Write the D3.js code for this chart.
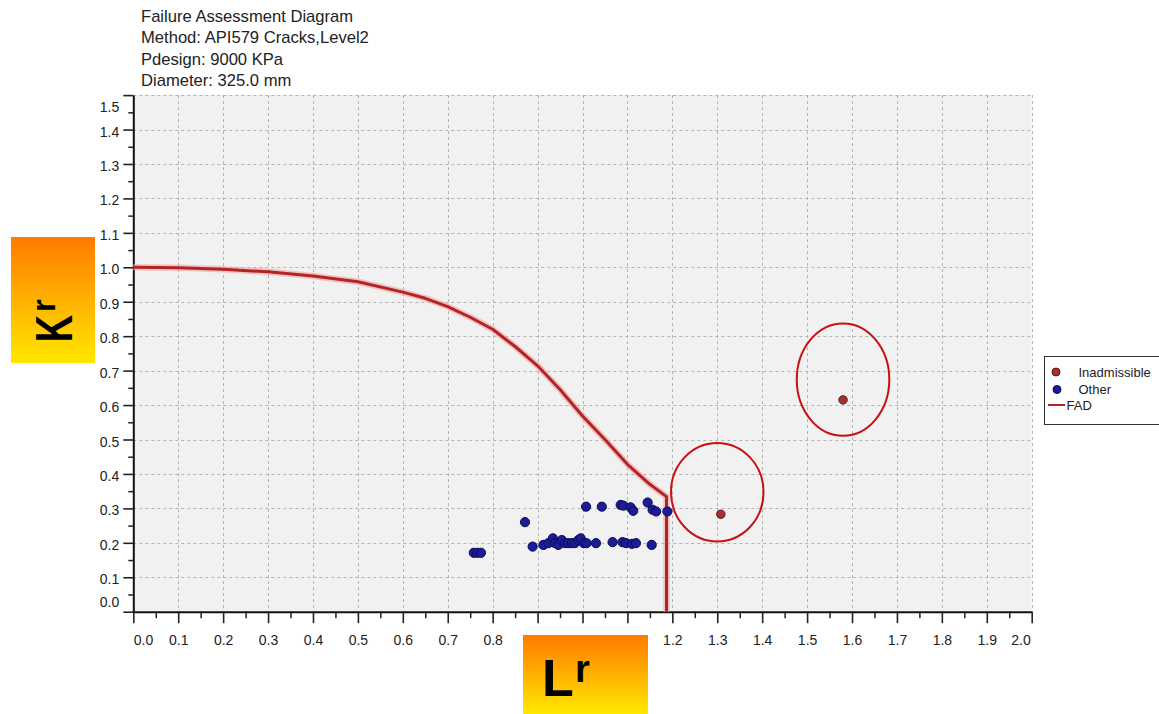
<!DOCTYPE html>
<html><head><meta charset="utf-8">
<script src="https://cdn.jsdelivr.net/npm/d3@7"></script>
<style>body{margin:0;background:#fff;} svg{display:block;}</style>
</head><body>
<svg id="c" width="1159" height="714"></svg>
<script>
// ---------- data ----------
const titleLines = ["Failure Assessment Diagram", "Method: API579 Cracks,Level2", "Pdesign: 9000 KPa", "Diameter: 325.0 mm"];
const xTickValues = [0,0.1,0.2,0.3,0.4,0.5,0.6,0.7,0.8,0.9,1.0,1.1,1.2,1.3,1.4,1.5,1.6,1.7,1.8,1.9,2.0];
const yTickValues = [0,0.1,0.2,0.3,0.4,0.5,0.6,0.7,0.8,0.9,1.0,1.1,1.2,1.3,1.4,1.5];
// FAD curve
const fadLr = [0, 0.1, 0.2, 0.3, 0.4, 0.5, 0.6, 0.65, 0.7, 0.75, 0.8, 0.85, 0.9, 0.95, 1.0, 1.05, 1.1, 1.15, 1.187, 1.187];
const fadKr = [1.0, 0.999, 0.994, 0.987, 0.975, 0.958, 0.928, 0.91, 0.886, 0.855, 0.82, 0.77, 0.714, 0.645, 0.568, 0.50, 0.428, 0.37, 0.334, 0.0];
// "Other" assessment points
const otherLr = [1.008, 1.043, 1.085, 1.091, 1.107, 1.113, 1.145, 1.156, 1.164, 1.189, 0.872,
  0.758, 0.766, 0.774,
  0.889, 0.913, 0.924, 0.934, 0.939, 0.946, 0.954, 0.961, 0.968, 0.976, 0.983, 0.991, 0.996, 1.003, 1.009,
  1.030, 1.067, 1.089, 1.097, 1.110, 1.119, 1.154];
const otherKr = [0.305, 0.305, 0.310, 0.308, 0.303, 0.293, 0.317, 0.296, 0.291, 0.291, 0.260,
  0.171, 0.171, 0.171,
  0.189, 0.194, 0.199, 0.213, 0.199, 0.194, 0.208, 0.199, 0.199, 0.199, 0.199, 0.208, 0.213, 0.199, 0.199,
  0.199, 0.202, 0.202, 0.199, 0.197, 0.199, 0.194];
// "Inadmissible" points
const inadLr = [1.308, 1.580];
const inadKr = [0.283, 0.615];
// highlight ellipses (centres, data units)
const hlLr = [1.30, 1.58];
const hlKr = [0.347, 0.674];
const hlHalfW = [0.103, 0.103];
const hlHalfH = [0.143, 0.163];
const legendLabels = ["Inadmissible", "Other", "FAD"];

// ---------- drawing ----------
const svg = d3.select("#c");
const FONT = "'Liberation Sans', Arial, sans-serif";
const x = d3.scaleLinear().domain([0, 2]).range([133.3, 1031.7]);
const y = d3.scaleLinear().domain([0, 1.5]).range([611.7, 95.1]);

// title
svg.append("g").selectAll("text").data(titleLines).join("text")
  .attr("x", 141).attr("y", (d, i) => 21.5 + i * 21.5)
  .attr("font-family", FONT).attr("font-size", 16.6).attr("fill", "#222")
  .text(d => d);

// plot background
svg.append("rect").attr("x", x(0)).attr("y", y(1.5)).attr("width", x(2) - x(0)).attr("height", y(0) - y(1.5))
  .attr("fill", "#f1f1f1");

// grid
const grid = svg.append("g").attr("stroke", "#b4b4b4").attr("stroke-width", 1).attr("stroke-dasharray", "3,3");
grid.selectAll("line.v").data(xTickValues.filter(d => d > 0)).join("line")
  .attr("x1", d => Math.round(x(d)) + 0.5).attr("x2", d => Math.round(x(d)) + 0.5)
  .attr("y1", y(1.5)).attr("y2", y(0));
grid.selectAll("line.h").data(yTickValues.filter(d => d > 0)).join("line")
  .attr("y1", d => Math.round(y(d)) + 0.5).attr("y2", d => Math.round(y(d)) + 0.5)
  .attr("x1", x(0)).attr("x2", x(2));

// axes: minor ticks
const xMinor = xTickValues.slice(0, -1).map(d => +(d + 0.05).toFixed(2));
const yMinor = yTickValues.slice(0, -1).map(d => +(d + 0.05).toFixed(2));
svg.append("g").attr("transform", `translate(0,${y(0)})`)
  .call(d3.axisBottom(x).tickValues(xMinor).tickSize(6.5).tickFormat(""))
  .call(g => g.select(".domain").remove())
  .call(g => g.selectAll("line").attr("stroke", "#222").attr("stroke-width", 1.5));
svg.append("g").attr("transform", `translate(${x(0)},0)`)
  .call(d3.axisLeft(y).tickValues(yMinor).tickSize(5).tickFormat(""))
  .call(g => g.select(".domain").remove())
  .call(g => g.selectAll("line").attr("stroke", "#222").attr("stroke-width", 1.5));

// major x axis
const xAx = svg.append("g").attr("transform", `translate(0,${y(0)})`)
  .call(d3.axisBottom(x).tickValues(xTickValues).tickSize(11.5).tickSizeOuter(0).tickFormat(d3.format(".1f")));
xAx.select(".domain").attr("stroke", "#111").attr("stroke-width", 2);
xAx.selectAll("line").attr("stroke", "#222").attr("stroke-width", 1.6);
xAx.selectAll("text").attr("font-family", FONT).attr("font-size", 14).attr("fill", "#222")
  .attr("y", 33.3).attr("dy", null)
  .attr("text-anchor", d => d === 0 ? "start" : (d === 2 ? "end" : "middle"))
  .attr("dx", d => d === 0 ? 0 : (d === 2 ? -1.5 : 0))
  .attr("x", 0);

// major y axis
const yAx = svg.append("g").attr("transform", `translate(${x(0)},0)`)
  .call(d3.axisLeft(y).tickValues(yTickValues).tickSize(10).tickSizeOuter(0).tickFormat(d3.format(".1f")));
yAx.select(".domain").attr("stroke", "#111").attr("stroke-width", 2);
yAx.selectAll("line").attr("stroke", "#222").attr("stroke-width", 1.6);
yAx.selectAll("text").attr("font-family", FONT).attr("font-size", 14).attr("fill", "#222")
  .attr("x", -14).attr("dy", null)
  .attr("y", d => d === 1.5 ? 16 : (d === 0 ? -5 : 6.5));

// FAD curve
const fadPts = fadLr.map((d, i) => [d, fadKr[i]]);
const line = d3.line().x(d => x(d[0])).y(d => y(d[1]));
svg.append("path").datum(fadPts).attr("d", line).attr("fill", "none")
  .attr("stroke", "#f3a3a3").attr("stroke-opacity", 0.6).attr("stroke-width", 6.5).attr("stroke-linejoin", "round");
svg.append("path").datum(fadPts).attr("d", line).attr("fill", "none")
  .attr("stroke", "#b32424").attr("stroke-width", 3).attr("stroke-linejoin", "round");

// other points
svg.append("g").selectAll("circle").data(otherLr.map((d, i) => [d, otherKr[i]])).join("circle")
  .attr("cx", d => x(d[0])).attr("cy", d => y(d[1])).attr("r", 4.6)
  .attr("fill", "#1c1c96").attr("stroke", "#0a0a55").attr("stroke-width", 1);

// inadmissible points
svg.append("g").selectAll("circle").data(inadLr.map((d, i) => [d, inadKr[i]])).join("circle")
  .attr("cx", d => x(d[0])).attr("cy", d => y(d[1])).attr("r", 4.2)
  .attr("fill", "#a83030").attr("stroke", "#5a1212").attr("stroke-width", 1);

// highlight ellipses
svg.append("g").selectAll("ellipse").data(hlLr.map((d, i) => i)).join("ellipse")
  .attr("cx", i => x(hlLr[i])).attr("cy", i => y(hlKr[i]))
  .attr("rx", i => x(hlHalfW[i]) - x(0)).attr("ry", i => y(0) - y(hlHalfH[i]))
  .attr("fill", "none").attr("stroke", "#c81010").attr("stroke-width", 2);

// legend
const lg = svg.append("g");
lg.append("rect").attr("x", 1044.5).attr("y", 356.5).attr("width", 130).attr("height", 68)
  .attr("fill", "#fff").attr("stroke", "#333").attr("stroke-width", 1);
lg.append("circle").attr("cx", 1056).attr("cy", 372).attr("r", 4).attr("fill", "#a83030").attr("stroke", "#5a1212");
lg.append("circle").attr("cx", 1057).attr("cy", 389.5).attr("r", 4).attr("fill", "#1c1c96").attr("stroke", "#0a0a55");
lg.append("line").attr("x1", 1048).attr("x2", 1065).attr("y1", 405).attr("y2", 405)
  .attr("stroke", "#b32424").attr("stroke-width", 2);
lg.selectAll("text").data(legendLabels).join("text")
  .attr("x", (d, i) => i === 2 ? 1066.5 : 1078.5).attr("y", (d, i) => [377, 393.5, 409.5][i])
  .attr("font-family", FONT).attr("font-size", 13).attr("fill", "#222").text(d => d);

// axis title boxes
const defs = svg.append("defs");
const grad = defs.append("linearGradient").attr("id", "og").attr("x1", 0).attr("y1", 0).attr("x2", 0).attr("y2", 1);
grad.append("stop").attr("offset", 0).attr("stop-color", "#ff7a00");
grad.append("stop").attr("offset", 1).attr("stop-color", "#ffe800");

svg.append("rect").attr("x", 11).attr("y", 237).attr("width", 84).attr("height", 126).attr("fill", "url(#og)");
const kg = svg.append("g").attr("transform", "translate(72,340) rotate(-90)");
kg.append("text").attr("transform", "scale(0.74,1)").attr("x", -3).attr("y", 0)
  .attr("font-family", FONT).attr("font-weight", "bold").attr("font-size", 51).attr("fill", "#000").text("K");
kg.append("text").attr("x", 28).attr("y", -17)
  .attr("font-family", FONT).attr("font-weight", "bold").attr("font-size", 33).attr("fill", "#000").text("r");

svg.append("rect").attr("x", 523).attr("y", 635).attr("width", 125).attr("height", 79).attr("fill", "url(#og)");
svg.append("text").attr("x", 542).attr("y", 696)
  .attr("font-family", FONT).attr("font-weight", "bold").attr("font-size", 52).attr("fill", "#000").text("L");
svg.append("text").attr("x", 575).attr("y", 681.5)
  .attr("font-family", FONT).attr("font-weight", "bold").attr("font-size", 38).attr("fill", "#000").text("r");
</script>
</body></html>
